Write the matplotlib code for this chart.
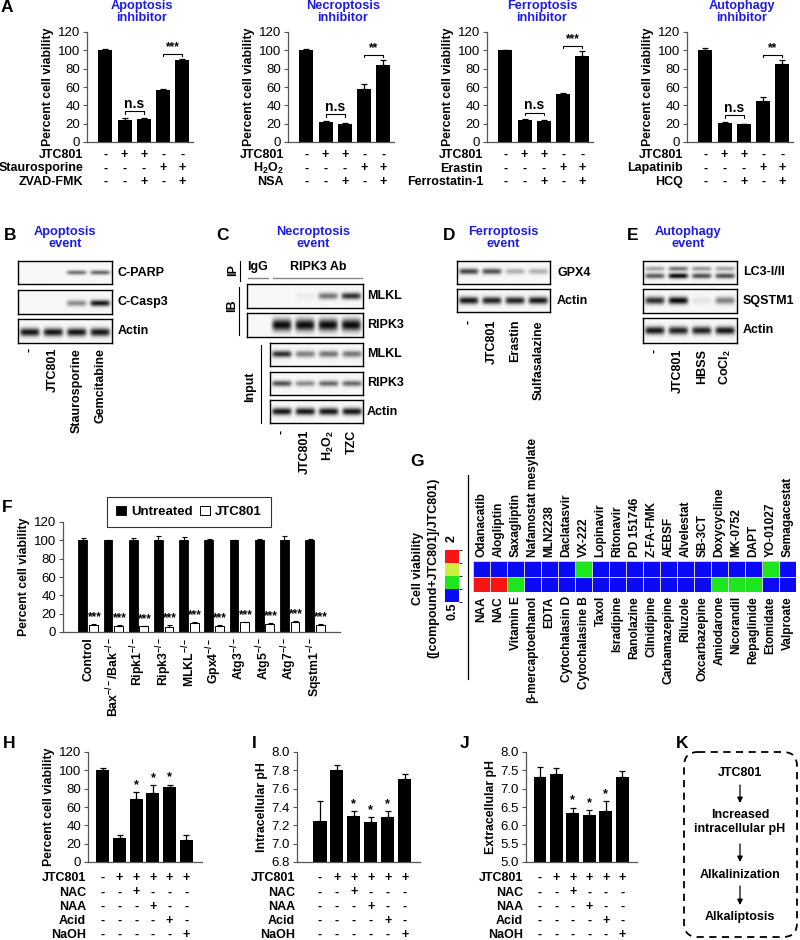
import numpy as np
import matplotlib
matplotlib.use('Agg')
import matplotlib.pyplot as plt
from matplotlib.transforms import blended_transform_factory as blend
from matplotlib.colors import ListedColormap, BoundaryNorm
from matplotlib.patches import FancyBboxPatch

plt.rcParams['font.family'] = ['Liberation Sans', 'DejaVu Sans']
plt.rcParams['mathtext.fontset'] = 'custom'
plt.rcParams['mathtext.rm'] = 'Liberation Sans'
plt.rcParams['mathtext.bf'] = 'Liberation Sans:bold'
plt.rcParams['mathtext.it'] = 'Liberation Sans:italic'

# ---------------- DATA ----------------
# Panel A
A_titles = ['Apoptosis\ninhibitor', 'Necroptosis\ninhibitor', 'Ferroptosis\ninhibitor', 'Autophagy\ninhibitor']
A_rows = [['JTC801', 'Staurosporine', 'ZVAD-FMK'],
          ['JTC801', r'H$_\mathbf{2}$O$_\mathbf{2}$', 'NSA'],
          ['JTC801', 'Erastin', 'Ferrostatin-1'],
          ['JTC801', 'Lapatinib', 'HCQ']]
A_signs = [['-', '+', '+', '-', '-'],
           ['-', '-', '-', '+', '+'],
           ['-', '-', '+', '-', '+']]
A_vals = [[100, 24.5, 25.5, 57, 89.5],
          [100, 22, 20, 58, 84],
          [100, 23.5, 22.5, 52.5, 94],
          [100, 21, 19.5, 44.5, 85]]
A_errs = [[1, 1.5, 0.8, 0.5, 0.5],
          [1.5, 1, 1.2, 5, 5],
          [0.8, 1.5, 1, 0.5, 5],
          [2, 1, 0.5, 4.5, 4]]
A_sig = ['***', '**', '***', '**']

# Panel B
B_title = 'Apoptosis\nevent'
B_lanes = ['-', 'JTC801', 'Staurosporine', 'Gemcitabine']
B_parp = [0, 0, 0.55, 0.6]
B_casp3 = [0, 0, 0.45, 0.95]
B_actin = [0.95, 0.95, 0.95, 0.95]

# Panel C
C_title = 'Necroptosis\nevent'
C_lanes = ['-', 'JTC801', r'H$_\mathbf{2}$O$_\mathbf{2}$', 'TZC']
C_ip_mlkl = [0, 0, 0.05, 0.55, 0.85]
C_ip_ripk3 = [0, 1, 1, 1, 1]
C_in_mlkl = [0.85, 0.5, 0.55, 0.55]
C_in_ripk3 = [0.7, 0.45, 0.6, 0.6]
C_in_actin = [0.95, 0.95, 0.95, 0.95]

# Panel D
D_title = 'Ferroptosis\nevent'
D_lanes = ['-', 'JTC801', 'Erastin', 'Sulfasalazine']
D_gpx4 = [0.75, 0.7, 0.3, 0.3]
D_actin = [0.95, 0.9, 0.9, 0.95]

# Panel E
E_title = 'Autophagy\nevent'
E_lanes = ['-', 'JTC801', 'HBSS', r'CoCl$_\mathbf{2}$']
E_lc3_I = [0.35, 0.55, 0.4, 0.35]
E_lc3_II = [0.65, 1.0, 0.7, 0.7]
E_sqstm1 = [0.85, 1.0, 0.08, 0.5]
E_actin = [0.95, 0.9, 0.9, 0.95]

# Panel F
F_groups = ['Control', r'Bax$^{\mathbf{-/-}}$/Bak$^{\mathbf{-/-}}$', r'Ripk1$^{\mathbf{-/-}}$',
            r'Ripk3$^{\mathbf{-/-}}$', r'MLKL$^{\mathbf{-/-}}$', r'Gpx4$^{\mathbf{-/-}}$',
            r'Atg3$^{\mathbf{-/-}}$', r'Atg5$^{\mathbf{-/-}}$', r'Atg7$^{\mathbf{-/-}}$',
            r'Sqstm1$^{\mathbf{-/-}}$']
F_untreated = [100, 100, 100, 100, 100, 100.5, 100, 100, 100, 100]
F_untreated_err = [3, 0.5, 3, 5, 4, 0.5, 0.8, 2, 5, 2]
F_jtc = [8, 7, 6.5, 5.5, 10, 7, 11, 9, 11, 8]
F_jtc_err = [0.5, 0.3, 0.3, 2, 0.5, 0.5, 0.3, 0.5, 1, 0.5]

# Panel G
G_top = ['Odanacatib', 'Alogliptin', 'Saxagliptin', 'Nafamostat mesylate', 'MLN2238',
         'Daclatasvir', 'VX-222', 'Lopinavir', 'Ritonavir', 'PD 151746', 'Z-FA-FMK',
         'AEBSF', 'Alvelestat', 'SB-3CT', 'Doxycycline', 'MK-0752', 'DAPT', 'YO-01027',
         'Semagacestat']
G_bottom = ['NAA', 'NAC', 'Vitamin E', 'β-mercaptoethanol', 'EDTA', 'Cytochalasin D',
            'Cytochalasine B', 'Taxol', 'Isradipine', 'Ranolazine', 'Cilnidipine',
            'Carbamazepine', 'Riluzole', 'Oxcarbazepine', 'Amiodarone', 'Nicorandil',
            'Repaglinide', 'Etomidate', 'Valproate']
G_top_vals = [0.8, 0.8, 0.8, 0.8, 0.8, 0.8, 1.3, 0.8, 0.8, 0.8, 0.8, 0.8, 0.8, 0.8,
              0.8, 0.8, 0.8, 1.3, 0.8]
G_bottom_vals = [2.2, 2.2, 1.3, 0.8, 0.8, 0.8, 0.8, 0.8, 0.8, 0.8, 0.8, 0.8, 0.8, 0.8,
                 1.3, 1.3, 1.3, 0.8, 0.8]

# Panels H, I, J
HIJ_rows = ['JTC801', 'NAC', 'NAA', 'Acid', 'NaOH']
HIJ_signs = [['-', '+', '+', '+', '+', '+'],
             ['-', '-', '+', '-', '-', '-'],
             ['-', '-', '-', '+', '-', '-'],
             ['-', '-', '-', '-', '+', '-'],
             ['-', '-', '-', '-', '-', '+']]
H_vals = [100, 26, 69, 75.5, 81.5, 23.5]
H_errs = [3, 3, 7, 8.5, 3, 6]
I_vals = [7.25, 7.80, 7.30, 7.24, 7.29, 7.71]
I_errs = [0.22, 0.06, 0.06, 0.05, 0.07, 0.05]
J_vals = [7.33, 7.40, 6.33, 6.27, 6.40, 7.33]
J_errs = [0.27, 0.16, 0.15, 0.15, 0.26, 0.14]
HIJ_star = [False, False, True, True, True, False]

# Panel K
K_steps = ['JTC801', 'Increased\nintracellular pH', 'Alkalinization', 'Alkaliptosis']

# ---------------- FIGURE ----------------
W, H = 800, 940
fig = plt.figure(figsize=(8, 9.4), dpi=100)
ov = fig.add_axes([0, 0, 1, 1])
ov.set_xlim(0, W)
ov.set_ylim(H, 0)
ov.axis('off')

BLUE = '#1c1ce8'
AXC = '#555555'


def px_ax(x0, y0, x1, y1):
    return fig.add_axes([x0 / W, 1 - y1 / H, (x1 - x0) / W, (y1 - y0) / H])


def letter(x, y, s):
    ov.text(x, y, s, fontsize=12.5, fontweight='bold', ha='left', va='center')


def barpanel(ax, vals, errs, ylim, yticks, ylabel, xlim, width=0.75, fmt=None):
    x = np.arange(len(vals))
    ax.bar(x, vals, width=width, color='black', zorder=2)
    ax.errorbar(x, vals, yerr=[np.zeros(len(errs)), errs], fmt='none', ecolor='black',
                elinewidth=0.9, capsize=2.2, capthick=0.9, zorder=3)
    ax.set_ylim(*ylim)
    ax.set_xlim(*xlim)
    ax.set_yticks(yticks)
    if fmt:
        ax.set_yticklabels([fmt % t for t in yticks])
    for s in ['top', 'right']:
        ax.spines[s].set_visible(False)
    for s in ['left', 'bottom']:
        ax.spines[s].set_color(AXC)
        ax.spines[s].set_linewidth(0.9)
    ax.set_xticks([])
    ax.tick_params(axis='y', length=3, width=0.8, color=AXC, labelsize=9.5, pad=2)
    ax.set_ylabel(ylabel, fontsize=8.8, fontweight='bold', labelpad=3)
    ax.patch.set_alpha(0)


def sign_table(ax, x_right, rows, signs, ys):
    tr = blend(ax.transData, ov.transData)
    for r, (name, y) in enumerate(zip(rows, ys)):
        ov.text(x_right, y, name, ha='right', va='center', fontsize=9, fontweight='bold')
        for j, s in enumerate(signs[r]):
            ax.text(j, y, s, transform=tr, ha='center', va='center', fontsize=9,
                    fontweight='bold', clip_on=False)


def bracket(ax, x0, x1, y, text, h, fs, dy):
    ax.plot([x0, x0, x1, x1], [y - h, y, y, y - h], color='black', lw=0.8, clip_on=False)
    ax.text((x0 + x1) / 2, y + dy, text, ha='center', va='bottom', fontsize=fs,
            fontweight='bold', clip_on=False)


# ---- Panel A ----
letter(1, 8, 'A')
A_boxes = [(87, 32, 193, 142), (288, 32, 394, 142), (487, 32, 593, 142), (687, 32, 793, 142)]
for k in range(4):
    x0, y0, x1, y1 = A_boxes[k]
    ax = px_ax(x0, y0, x1, y1)
    barpanel(ax, A_vals[k], A_errs[k], (0, 120), np.arange(0, 121, 20),
             'Percent cell viability', (-0.95, 4.55), width=0.72)
    tops = np.array(A_vals[k]) + np.array(A_errs[k])
    bracket(ax, 1, 2, max(tops[1:3]) + 7, 'n.s', 2.5, 10, 1)
    bracket(ax, 3, 4, max(tops[3:5]) + 6, A_sig[k], 2.5, 8.5, 0.5)
    ov.text(x0 + 55, 12, A_titles[k], color=BLUE, fontsize=9.2, fontweight='bold',
            ha='center', va='center', linespacing=1.1)
    signs = [A_signs[0], A_signs[1], A_signs[2]]
    sign_table(ax, x0 - 4, A_rows[k], signs, [155, 168.5, 182])


# ---- Blot helper ----
def blot(box, rows, n, bg=0.97):
    x0, y0, x1, y1 = box
    ax = px_ax(x0, y0, x1, y1)
    nx, ny = 300, 60
    xx = np.linspace(0, n, nx)
    yy = np.linspace(0, 1, ny)
    img = np.zeros((ny, nx))
    for ints, yc, th in rows:
        for i, v in enumerate(ints):
            hx = np.exp(-(((xx - (i + 0.5)) / 0.42) ** 6))
            hy = np.exp(-((yy - yc) / th) ** 2)
            img += v * np.outer(hy, hx)
    img = bg - np.clip(img, 0, 1) * 0.93
    ax.imshow(img, cmap='gray', vmin=0, vmax=1, extent=(0, n, 1, 0), aspect='auto',
              interpolation='bilinear')
    ax.set_xlim(0, n)
    ax.set_ylim(1, 0)
    ax.set_xticks([])
    ax.set_yticks([])
    for s in ax.spines.values():
        s.set_linewidth(1.0)
        s.set_color('black')
    return ax


def lane_labels(ax, labels, y, offset=0):
    tr = blend(ax.transData, ov.transData)
    for i, lab in enumerate(labels):
        ax.text(i + 0.5 + offset, y, lab, transform=tr, rotation=90, ha='center', va='top',
                fontsize=9, fontweight='bold', clip_on=False)


def blot_label(x, y, s):
    ov.text(x, y, s, fontsize=9, fontweight='bold', ha='left', va='center')


# ---- Panel B ----
letter(4, 236, 'B')
ov.text(65, 238, B_title, color=BLUE, fontsize=9.2, fontweight='bold', ha='center',
        va='center', linespacing=1.1)
b1 = blot((18, 261, 112, 284), [(B_parp, 0.5, 0.1)], 4)
b2 = blot((18, 290, 112, 314), [(B_casp3, 0.55, 0.13)], 4)
b3 = blot((18, 319, 112, 343), [(B_actin, 0.55, 0.17)], 4)
blot_label(118, 273, 'C-PARP')
blot_label(118, 302, 'C-Casp3')
blot_label(118, 331, 'Actin')
lane_labels(b3, B_lanes, 348)

# ---- Panel C ----
letter(216, 236, 'C')
ov.text(313, 238, C_title, color=BLUE, fontsize=9.2, fontweight='bold', ha='center',
        va='center', linespacing=1.1)
ov.text(233, 270, 'IP', rotation=90, fontsize=9, fontweight='bold', ha='center', va='center')
ov.plot([240, 240], [261, 281], color='black', lw=0.8)
ov.text(258, 267, 'IgG', fontsize=9, fontweight='bold', ha='center', va='center')
ov.text(318, 267, 'RIPK3 Ab', fontsize=9, fontweight='bold', ha='center', va='center')
ov.plot([248, 268], [278, 278], color='#888888', lw=1.0)
ov.plot([273, 362], [278, 278], color='#888888', lw=1.0)
c1 = blot((247, 284, 363, 308), [(C_ip_mlkl, 0.5, 0.14)], 5)
c2 = blot((247, 313, 363, 337), [(C_ip_ripk3, 0.5, 0.25)], 5)
ov.text(232, 306, 'IB', rotation=90, fontsize=9, fontweight='bold', ha='center', va='center')
ov.plot([239, 239], [287, 335], color='black', lw=0.8)
c3 = blot((270, 343, 363, 366), [(C_in_mlkl, 0.5, 0.14)], 4)
c4 = blot((270, 372, 363, 395), [(C_in_ripk3, 0.5, 0.13)], 4)
c5 = blot((270, 400, 363, 423), [(C_in_actin, 0.5, 0.16)], 4)
ov.text(250, 387, 'Input', rotation=90, fontsize=9, fontweight='bold', ha='center', va='center')
ov.plot([261, 261], [345, 423], color='black', lw=0.8)
blot_label(367, 296, 'MLKL')
blot_label(367, 325, 'RIPK3')
blot_label(367, 354, 'MLKL')
blot_label(367, 383, 'RIPK3')
blot_label(367, 412, 'Actin')
lane_labels(c5, C_lanes, 430)

# ---- Panel D ----
letter(443, 236, 'D')
ov.text(503, 238, D_title, color=BLUE, fontsize=9.2, fontweight='bold', ha='center',
        va='center', linespacing=1.1)
d1 = blot((457, 261, 550, 284), [(D_gpx4, 0.45, 0.13)], 4)
d2 = blot((457, 289, 550, 312), [(D_actin, 0.5, 0.16)], 4)
blot_label(557, 273, 'GPX4')
blot_label(557, 301, 'Actin')
lane_labels(d2, D_lanes, 320)

# ---- Panel E ----
letter(627, 236, 'E')
ov.text(688, 238, E_title, color=BLUE, fontsize=9.2, fontweight='bold', ha='center',
        va='center', linespacing=1.1)
e1 = blot((643, 261, 737, 284), [(E_lc3_I, 0.33, 0.1), (E_lc3_II, 0.65, 0.12)], 4)
e2 = blot((643, 289, 737, 313), [(E_sqstm1, 0.5, 0.15)], 4)
e3 = blot((643, 318, 737, 343), [(E_actin, 0.5, 0.16)], 4)
blot_label(743, 272, 'LC3-I/II')
blot_label(743, 301, 'SQSTM1')
blot_label(743, 330, 'Actin')
lane_labels(e3, E_lanes, 349)

# ---- Panel F ----
letter(2, 507, 'F')
fax = px_ax(63, 522, 340, 632)
xg = np.arange(1, 11)
bw = 0.35
fb1 = fax.bar(xg - 0.21, F_untreated, width=bw, color='black', edgecolor='black', lw=0.6,
              label='Untreated', zorder=2)
fax.errorbar(xg - 0.21, F_untreated, yerr=[np.zeros(10), F_untreated_err], fmt='none',
             ecolor='black', elinewidth=0.8, capsize=1.8, capthick=0.8)
fb2 = fax.bar(xg + 0.21, F_jtc, width=bw, color='white', edgecolor='black', lw=0.7,
              label='JTC801', zorder=2)
fax.errorbar(xg + 0.21, F_jtc, yerr=[np.zeros(10), F_jtc_err], fmt='none',
             ecolor='black', elinewidth=0.8, capsize=1.8, capthick=0.8)
for xi, v, e in zip(xg, F_jtc, F_jtc_err):
    fax.text(xi + 0.25, v + e + 1.0, '***', ha='center', va='bottom', fontsize=8.5,
             fontweight='bold')
fax.set_xlim(0, 11)
fax.set_ylim(0, 120)
fax.set_yticks(np.arange(0, 121, 20))
for s in ['top', 'right']:
    fax.spines[s].set_visible(False)
for s in ['left', 'bottom']:
    fax.spines[s].set_color(AXC)
    fax.spines[s].set_linewidth(0.9)
fax.tick_params(axis='y', length=3, width=0.8, color=AXC, labelsize=9.5, pad=2)
fax.set_xticks(xg)
fax.set_xticklabels(F_groups, rotation=90, fontsize=8.8, fontweight='bold')
fax.tick_params(axis='x', length=0, pad=4)
fax.set_ylabel('Percent cell viability', fontsize=8.8, fontweight='bold', labelpad=3)
fax.patch.set_alpha(0)
leg = fax.legend(handles=[fb1, fb2], ncol=2, loc='center', bbox_to_anchor=(189 / W, 1 - 512 / H),
                 bbox_transform=fig.transFigure, frameon=True, fancybox=False,
                 edgecolor='black', prop=dict(weight='bold', size=9.5), handlelength=0.75,
                 handleheight=0.75, columnspacing=0.6, handletextpad=0.35, borderpad=0.7)
leg.get_frame().set_linewidth(0.8)

# ---- Panel G ----
letter(410, 461, 'G')
ov.plot([468, 468], [475, 679], color='black', lw=0.9)
gcmap = ListedColormap(['#0a0af5', '#1ee61e', '#c8f03c', '#fa1414'])
gnorm = BoundaryNorm([0.5, 1.0, 1.5, 1.75, 2.0], gcmap.N, clip=True)
hm = px_ax(473, 561, 796, 592)
gdata = np.array([G_top_vals, G_bottom_vals])
mesh = hm.pcolormesh(np.arange(len(G_top) + 1), np.arange(3), gdata, cmap=gcmap, norm=gnorm,
                     edgecolors='#d0d0d0', linewidth=0.4)
hm.set_xlim(0, len(G_top))
hm.set_ylim(2, 0)
hm.set_yticks([])
hm.set_xticks(np.arange(len(G_bottom)) + 0.5)
hm.set_xticklabels(G_bottom, rotation=90, fontsize=8.6, fontweight='bold')
hm.tick_params(axis='x', length=0, pad=3)
for s in hm.spines.values():
    s.set_visible(False)
sec = hm.secondary_xaxis('top')
sec.set_xticks(np.arange(len(G_top)) + 0.5)
sec.set_xticklabels(G_top, rotation=90, fontsize=8.6, fontweight='bold')
sec.tick_params(axis='x', length=0, pad=3)
sec.spines['top'].set_visible(False)
cax = px_ax(445, 550, 459, 602)
cb = fig.colorbar(mesh, cax=cax, orientation='vertical')
cb.set_ticks([])
cb.outline.set_visible(False)
ov.text(452, 539, '2', rotation=90, fontsize=9, fontweight='bold', ha='center', va='center')
ov.text(452, 611, '0.5', rotation=90, fontsize=9, fontweight='bold', ha='center', va='center')
ov.text(418, 568, 'Cell viability', rotation=90, fontsize=9, fontweight='bold',
        ha='center', va='center')
ov.text(433, 568, '([compound+JTC801]/JTC801)', rotation=90, fontsize=9, fontweight='bold',
        ha='center', va='center')

# ---- Panels H, I, J ----
row_y = [878, 892.5, 907, 921, 935]
letter(3, 744, 'H')
hax = px_ax(88, 752, 202, 862)
barpanel(hax, H_vals, H_errs, (0, 120), np.arange(0, 121, 20), 'Percent cell viability',
         (-0.9, 5.95), width=0.78)
for j in range(6):
    if HIJ_star[j]:
        hax.text(j, H_vals[j] + H_errs[j] + 1, '*', ha='center', va='bottom', fontsize=9,
                 fontweight='bold')
sign_table(hax, 86, HIJ_rows, HIJ_signs, row_y)

letter(252, 744, 'I')
iax = px_ax(297, 752, 420, 862)
barpanel(iax, I_vals, I_errs, (6.8, 8.0), np.round(np.arange(6.8, 8.01, 0.2), 1),
         'Intracellular pH', (-1.35, 5.9), width=0.78, fmt='%.1f')
for j in range(6):
    if HIJ_star[j]:
        iax.text(j, I_vals[j] + I_errs[j] + 0.01, '*', ha='center', va='bottom', fontsize=9,
                 fontweight='bold')
sign_table(iax, 295, HIJ_rows, HIJ_signs, row_y)

letter(460, 744, 'J')
jax = px_ax(526, 752, 637, 862)
barpanel(jax, J_vals, J_errs, (5.0, 8.0), np.round(np.arange(5.0, 8.01, 0.5), 1),
         'Extracellular pH', (-0.85, 5.9), width=0.78, fmt='%.1f')
for j in range(6):
    if HIJ_star[j]:
        jax.text(j, J_vals[j] + J_errs[j] + 0.03, '*', ha='center', va='bottom', fontsize=9,
                 fontweight='bold')
sign_table(jax, 523, HIJ_rows, HIJ_signs, row_y)

# ---- Panel K ----
letter(676, 744, 'K')
box = FancyBboxPatch((684, 752), 113, 185, boxstyle='round,pad=0,rounding_size=14',
                     fill=False, ec='black', lw=1.3, ls=(0, (4, 3)))
ov.add_patch(box)
k_y = [773, 822, 875, 917]
for s, y in zip(K_steps, k_y):
    ov.text(740, y, s, ha='center', va='center', fontsize=9, fontweight='bold',
            linespacing=1.15)
for ya, yb in [(785, 803), (844, 862), (886, 905)]:
    ov.annotate('', xy=(740, yb), xytext=(740, ya),
                arrowprops=dict(arrowstyle='-|>', color='black', lw=0.9, mutation_scale=8,
                                shrinkA=0, shrinkB=0))

fig.savefig('out.png', dpi=100)
